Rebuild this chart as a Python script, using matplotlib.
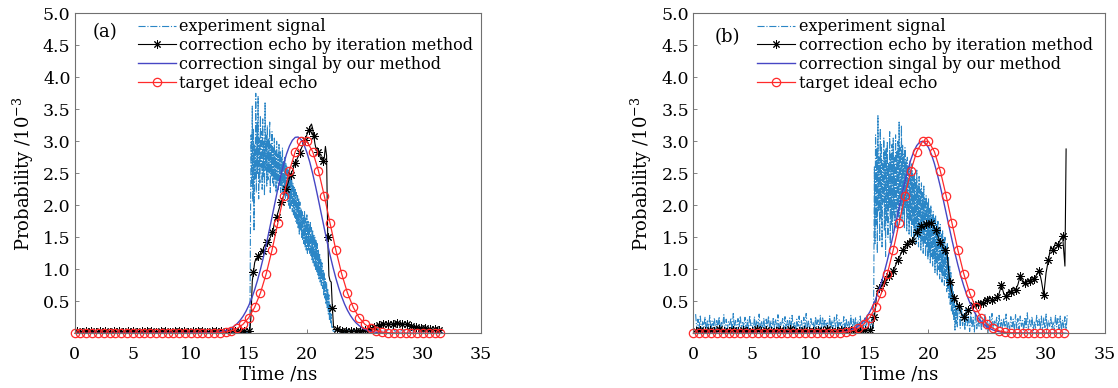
import numpy as np
import matplotlib
matplotlib.use("Agg")
import matplotlib.pyplot as plt

# ---------------- data ----------------
# target ideal echo (same target in both panels), sampled every 0.5 ns from 0 ns
ideal_t0, ideal_dt = 0.0, 0.5
ideal_echo = [0.0] * 24 + [
    0.004, 0.009, 0.019, 0.039, 0.076, 0.141, 0.245, 0.405, 0.63, 0.93,
    1.30, 1.72, 2.15, 2.54, 2.84, 3.00, 3.00, 2.84, 2.54, 2.15,
    1.72, 1.30, 0.93, 0.63, 0.405, 0.245, 0.141, 0.076, 0.039, 0.019,
    0.009, 0.004] + [0.0] * 8

# correction signal by our method, sampled every 0.25 ns from 12 ns
our_t0, our_dt = 12.0, 0.25
our_flat_t = [0.0, 31.7]
our_a = [0.009, 0.014, 0.020, 0.030, 0.042, 0.059, 0.082, 0.113, 0.152, 0.202, 0.264, 0.342,
         0.436, 0.547, 0.678, 0.828, 0.997, 1.183, 1.385, 1.598, 1.818, 2.039, 2.255, 2.458,
         2.643, 2.801, 2.926, 3.015, 3.062, 3.067, 3.028, 2.947, 2.828, 2.676, 2.497, 2.297,
         2.083, 1.862, 1.642, 1.427, 1.222, 1.033, 0.860, 0.707, 0.572, 0.456, 0.359, 0.279,
         0.213, 0.161, 0.120, 0.088, 0.063, 0.045, 0.032, 0.022, 0.015, 0.010, 0.006, 0.004,
         0.002]
our_b = [0.006, 0.009, 0.014, 0.020, 0.029, 0.042, 0.058, 0.081, 0.110, 0.148, 0.196, 0.257,
         0.331, 0.422, 0.529, 0.654, 0.798, 0.960, 1.139, 1.333, 1.539, 1.751, 1.965, 2.175,
         2.374, 2.556, 2.714, 2.841, 2.933, 2.987, 3.000, 2.970, 2.901, 2.794, 2.654, 2.486,
         2.297, 2.092, 1.880, 1.666, 1.455, 1.254, 1.066, 0.893, 0.739, 0.602, 0.484, 0.384,
         0.300, 0.231, 0.176, 0.132, 0.098, 0.071, 0.051, 0.036, 0.025, 0.017, 0.012, 0.008,
         0.005]

# correction echo by iteration method
# (a): flat part every 0.4 ns from 0.2, active part every 0.1 ns from 15.0, tail every 0.4 ns from 23.4
iter_a_pre = [0.03, 0.02, 0.04, 0.03, 0.02, 0.03, 0.04, 0.02, 0.03, 0.03,
              0.02, 0.04, 0.03, 0.02, 0.03, 0.04, 0.03, 0.02, 0.03, 0.04,
              0.02, 0.03, 0.03, 0.04, 0.02, 0.03, 0.04, 0.03, 0.02, 0.03,
              0.04, 0.03, 0.02, 0.04, 0.03, 0.04, 0.03]
iter_a_act = [0.03, 0.04, 0.30, 0.82, 0.95, 1.10, 1.16, 1.14, 1.20, 1.22,
              1.25, 1.30, 1.28, 1.35, 1.38, 1.36, 1.42, 1.45, 1.48, 1.52,
              1.58, 1.62, 1.72, 1.78, 1.82, 1.88, 1.94, 2.00, 2.05, 2.10,
              2.15, 2.20, 2.25, 2.30, 2.36, 2.42, 2.48, 2.52, 2.56, 2.62,
              2.66, 2.70, 2.74, 2.78, 2.82, 2.88, 2.92, 2.96, 3.02, 3.06,
              3.10, 3.15, 3.18, 3.24, 3.27, 3.20, 3.08, 2.96, 2.88, 2.90,
              2.84, 2.78, 2.72, 2.76, 2.70, 2.74, 2.92, 2.78, 1.50, 0.90,
              0.82, 0.80, 0.40, 0.10, 0.06, 0.05, 0.06, 0.04, 0.05, 0.04,
              0.04]
iter_a_tail = [0.04, 0.03, 0.04, 0.04, 0.05, 0.07, 0.10, 0.13, 0.14, 0.15,
               0.14, 0.16, 0.15, 0.14, 0.12, 0.10, 0.09, 0.08, 0.07, 0.06, 0.05]
# (b): flat part every 0.4 ns from 0.2, active part every 0.2 ns from 15.0, final spike
iter_b_pre = [0.04, 0.05, 0.03, 0.05, 0.04, 0.06, 0.04, 0.03, 0.05, 0.04,
              0.05, 0.03, 0.04, 0.06, 0.04, 0.05, 0.03, 0.04, 0.05, 0.04,
              0.06, 0.03, 0.04, 0.05, 0.04, 0.03, 0.05, 0.04, 0.06, 0.04,
              0.03, 0.05, 0.04, 0.05, 0.04, 0.03, 0.05]
iter_b_act = [0.05, 0.06, 0.25, 0.62, 0.70, 0.74, 0.80, 0.86, 0.90, 0.94,
              0.98, 1.06, 1.15, 1.22, 1.30, 1.36, 1.40, 1.46, 1.44, 1.52,
              1.58, 1.62, 1.68, 1.64, 1.70, 1.74, 1.72, 1.68, 1.62, 1.52,
              1.42, 1.36, 1.30, 1.22, 0.80, 0.62, 0.55, 0.48, 0.42, 0.30,
              0.26, 0.30, 0.36, 0.40, 0.44, 0.42, 0.45, 0.50, 0.48, 0.55,
              0.52, 0.58, 0.52, 0.50, 0.56, 0.62, 0.75, 0.62, 0.58, 0.66,
              0.64, 0.72, 0.68, 0.76, 0.90, 0.80, 0.78, 0.84, 0.82, 0.88,
              0.85, 0.92, 0.98, 0.82, 0.60, 0.95, 1.15, 1.36, 1.30, 1.42,
              1.38, 1.46, 1.52, 1.05]
iter_b_end_t = [31.7]
iter_b_end = [2.88]

# experiment signal
# (a): quiet before 15.1 ns, active every 0.05 ns from 15.10, tail every 0.2 ns from 22.4
exp_a_pre_t = [0.2, 15.05]
exp_a_pre = [0.01, 0.01]
exp_a_act = [0.30, 1.90,
             3.10, 2.30, 3.55, 2.05, 3.20, 1.60, 2.95, 2.40, 3.75, 2.20,
             3.30, 2.50, 3.70, 2.10, 3.05, 2.35, 3.40, 2.60, 3.15, 2.25,
             3.35, 2.45, 3.00, 2.15, 3.60, 2.55, 3.10, 2.30, 3.25, 2.40,
             3.05, 2.50, 3.30, 2.20, 2.95, 2.45, 3.15, 2.35, 2.90, 2.30,
             3.05, 2.40, 2.85, 2.20, 3.00, 2.35, 2.80, 2.25, 2.95, 2.30,
             2.85, 2.20, 2.75, 2.30, 2.90, 2.15, 2.70, 2.25, 2.75, 2.10,
             2.65, 2.15, 2.60, 2.05, 2.55, 2.00, 2.60, 1.95, 2.45, 2.00,
             2.40, 1.90, 2.35, 1.85, 2.30, 1.80, 2.25, 1.75, 2.20, 1.70,
             2.15, 1.65, 2.10, 1.55, 2.05, 1.60, 1.95, 1.50, 1.90, 1.45,
             1.85, 1.40, 1.90, 1.35, 1.80, 1.30, 1.85, 1.25, 1.75, 1.30,
             1.70, 1.25, 1.75, 1.20, 1.65, 1.15, 1.60, 1.10, 1.55, 1.05,
             1.50, 1.00, 1.45, 0.95, 1.40, 0.90, 1.30, 0.85, 1.25, 0.80,
             1.15, 0.75, 1.10, 0.70, 1.00, 0.60, 0.95, 0.55, 0.85, 0.45,
             0.80, 0.40, 0.70, 0.30, 0.60, 0.20, 0.45, 0.15, 0.30, 0.08,
             0.10, 0.04, 0.03]
exp_a_tail = [0.03, 0.06, 0.02, 0.05, 0.01, 0.04, 0.07, 0.02, 0.05, 0.03,
              0.06, 0.01, 0.04, 0.08, 0.03, 0.05, 0.02, 0.06, 0.04, 0.07,
              0.03, 0.05, 0.02, 0.06, 0.04, 0.08, 0.03, 0.05, 0.01, 0.06,
              0.04, 0.07, 0.02, 0.05, 0.03, 0.06, 0.04, 0.02, 0.05, 0.03,
              0.06, 0.02, 0.04, 0.05, 0.03, 0.02, 0.04]
# (b): baseline every 0.1 ns from 0.2, active every 0.05 ns from 15.35, tail every 0.1 ns from 22.6
exp_b_pre = [0.30, 0.05, 0.22, 0.08, 0.27, 0.02, 0.18, 0.10, 0.25, 0.04,
             0.21, 0.07, 0.28, 0.03, 0.19, 0.12, 0.24, 0.01, 0.20, 0.09,
             0.26, 0.05, 0.17, 0.11, 0.29, 0.03, 0.22, 0.06, 0.18, 0.13,
             0.24, 0.02, 0.31, 0.08, 0.20, 0.04, 0.23, 0.10, 0.27, 0.05,
             0.19, 0.09, 0.25, 0.01, 0.21, 0.07, 0.28, 0.12, 0.16, 0.03,
             0.26, 0.06, 0.20, 0.10, 0.30, 0.04, 0.18, 0.08, 0.24, 0.02,
             0.22, 0.11, 0.27, 0.05, 0.19, 0.03, 0.25, 0.09, 0.21, 0.06,
             0.29, 0.02, 0.17, 0.12, 0.23, 0.07, 0.26, 0.04, 0.20, 0.10,
             0.24, 0.05, 0.28, 0.08, 0.18, 0.01, 0.22, 0.11, 0.27, 0.06,
             0.20, 0.03, 0.25, 0.09, 0.31, 0.05, 0.19, 0.07, 0.23, 0.12,
             0.17, 0.04, 0.26, 0.10, 0.21, 0.02, 0.28, 0.06, 0.24, 0.08,
             0.22, 0.11, 0.18, 0.03, 0.27, 0.07, 0.20, 0.05, 0.25, 0.09,
             0.29, 0.04, 0.21, 0.12, 0.19, 0.06, 0.26, 0.02, 0.23, 0.10,
             0.18, 0.07, 0.28, 0.05, 0.22, 0.09, 0.25, 0.03, 0.20, 0.11,
             0.27, 0.06, 0.19, 0.08, 0.24, 0.04, 0.30, 0.10, 0.21, 0.05,
             0.23, 0.08]
exp_b_act = [0.80, 2.60, 1.40, 3.10, 1.70, 2.90, 1.25, 3.40, 1.90, 2.75,
             1.45, 3.20, 1.80, 2.95, 1.35, 2.70, 2.05, 3.05, 1.60, 2.85,
             1.20, 2.90, 1.75, 3.00, 1.50, 2.65, 1.95, 3.15, 1.40, 2.80,
             1.70, 2.95, 1.55, 3.05, 1.85, 2.75, 1.65, 3.10, 1.90, 2.85,
             1.60, 3.00, 1.80, 3.30, 1.70, 2.90, 2.00, 3.25, 1.75, 2.95,
             1.85, 2.80, 1.65, 2.90, 1.95, 2.70, 1.60, 2.75, 1.80, 2.60,
             1.55, 2.70, 1.75, 2.55, 1.50, 2.65, 1.70, 2.45, 1.45, 2.50,
             1.60, 2.40, 1.40, 2.55, 1.55, 2.30, 1.35, 2.45, 1.50, 2.25,
             1.30, 2.35, 1.45, 2.20, 1.25, 2.30, 1.40, 2.10, 1.20, 2.15,
             1.35, 2.05, 1.15, 2.10, 1.25, 1.95, 1.10, 2.00, 1.20, 1.85,
             1.05, 1.90, 1.15, 1.80, 0.95, 1.85, 1.10, 1.70, 0.90, 1.75,
             1.00, 1.65, 0.85, 1.70, 0.95, 1.55, 0.80, 1.60, 0.90, 1.45,
             0.75, 1.50, 0.85, 1.35, 0.65, 1.40, 0.70, 1.20, 0.55, 1.05,
             0.45, 0.95, 0.35, 0.80, 0.30, 0.65, 0.20, 0.55, 0.05, 0.45,
             0.15, 0.50, 0.10, 0.40]
exp_b_tail = [0.35, 0.08, 0.42, 0.12, 0.30, 0.05, 0.38, 0.10, 0.28, 0.03,
              0.30, 0.09, 0.25, 0.02, 0.33, 0.07, 0.22, 0.11, 0.27, 0.04,
              0.24, 0.10, 0.29, 0.05, 0.20, 0.01, 0.26, 0.08, 0.31, 0.06,
              0.19, 0.12, 0.25, 0.03, 0.28, 0.09, 0.21, 0.05, 0.24, 0.11,
              0.30, 0.04, 0.18, 0.07, 0.26, 0.10, 0.22, 0.02, 0.29, 0.08,
              0.23, 0.06, 0.27, 0.11, 0.20, 0.03, 0.25, 0.09, 0.32, 0.05,
              0.21, 0.10, 0.26, 0.04, 0.19, 0.08, 0.28, 0.12, 0.22, 0.06,
              0.27, 0.02, 0.24, 0.09, 0.30, 0.05, 0.20, 0.11, 0.25, 0.07,
              0.18, 0.04, 0.29, 0.10, 0.23, 0.06, 0.27, 0.03, 0.21, 0.09,
              0.26, 0.05, 0.30]

legend_labels = ["experiment signal", "correction echo by iteration method",
                 "correction singal by our method", "target ideal echo"]
panel_tags = ["(a)", "(b)"]
x_ticks = [0, 5, 10, 15, 20, 25, 30, 35]
y_ticks = [0.5, 1.0, 1.5, 2.0, 2.5, 3.0, 3.5, 4.0, 4.5, 5.0]

# ---------------- helpers ----------------
def grid(t0, dt, n):
    return t0 + dt * np.arange(n)

def series(parts):
    ts = np.concatenate([p[0] for p in parts])
    vs = np.concatenate([np.asarray(p[1], float) for p in parts])
    return ts, vs

# ---------------- figure ----------------
plt.rcParams["font.family"] = "DejaVu Serif"
plt.rcParams["mathtext.fontset"] = "dejavuserif"
FS_LEG = 11.5
FS_TICK = 12.5
FS_LAB = 13

fig = plt.figure(figsize=(11.18, 3.88), dpi=100)
ax_a = fig.add_axes([0.0668, 0.141, 0.3634, 0.8247])
ax_b = fig.add_axes([0.6201, 0.141, 0.3682, 0.8247])

C_EXP = "#2b86c6"
C_OUR = "#4646c4"
C_IDEAL = "#ff2a2a"
SPINE = "#707070"

t_ideal = grid(ideal_t0, ideal_dt, len(ideal_echo))

panels = []
# panel a
exp_a = series([(np.array(exp_a_pre_t), exp_a_pre),
                (grid(15.10, 0.05, len(exp_a_act)), exp_a_act),
                (grid(22.4, 0.2, len(exp_a_tail)), exp_a_tail)])
it_a = series([(grid(0.2, 0.4, len(iter_a_pre)), iter_a_pre),
               (grid(15.0, 0.1, len(iter_a_act)), iter_a_act),
               (grid(23.4, 0.4, len(iter_a_tail)), iter_a_tail)])
mk_a = (list(range(len(iter_a_pre)))
        + [len(iter_a_pre) + i for i in range(0, len(iter_a_act), 4)]
        + [len(iter_a_pre) + len(iter_a_act) + i for i in range(len(iter_a_tail))])
our_a_s = series([(np.array(our_flat_t[:1]), [0.0]),
                  (grid(our_t0, our_dt, len(our_a)), our_a),
                  (np.array(our_flat_t[1:]), [0.0])])
panels.append((ax_a, exp_a, it_a, mk_a, our_a_s))

# panel b
exp_b = series([(grid(0.2, 0.1, len(exp_b_pre)), exp_b_pre),
                (grid(15.35, 0.05, len(exp_b_act)), exp_b_act),
                (grid(22.6, 0.1, len(exp_b_tail)), exp_b_tail)])
it_b = series([(grid(0.2, 0.4, len(iter_b_pre)), iter_b_pre),
               (grid(15.0, 0.2, len(iter_b_act)), iter_b_act),
               (np.array(iter_b_end_t), iter_b_end)])
mk_b = (list(range(len(iter_b_pre)))
        + [len(iter_b_pre) + i for i in range(0, len(iter_b_act), 2)])
our_b_s = series([(np.array(our_flat_t[:1]), [0.0]),
                  (grid(our_t0, our_dt, len(our_b)), our_b),
                  (np.array(our_flat_t[1:]), [0.0])])
panels.append((ax_b, exp_b, it_b, mk_b, our_b_s))

tag_pos = [(0.043, 0.942), (0.052, 0.926)]

for k, (ax, ex, it, mk, ours) in enumerate(panels):
    ax.plot(ex[0], ex[1], linestyle="-.", color=C_EXP, lw=0.8, label=legend_labels[0])
    ax.plot(it[0], it[1], linestyle="-", color="black", lw=0.8, marker=(8, 2, 0),
            markersize=6, markeredgewidth=0.7, markevery=mk, label=legend_labels[1])
    ax.plot(ours[0], ours[1], linestyle="-", color=C_OUR, lw=1.0, label=legend_labels[2])
    ax.plot(t_ideal, ideal_echo, linestyle="-", color=C_IDEAL, lw=0.9, marker="o",
            markersize=6, markerfacecolor="none", markeredgewidth=0.9, clip_on=False,
            label=legend_labels[3])

    ax.set_xlim(0, 35)
    ax.set_ylim(0, 5)
    ax.set_xticks(x_ticks)
    ax.set_yticks(y_ticks)
    ax.set_yticklabels([f"{v:.1f}" for v in y_ticks])
    ax.tick_params(direction="in", length=3, width=0.6, color=SPINE,
                   labelsize=FS_TICK)
    ax.tick_params(axis="x", pad=9)
    ax.tick_params(axis="y", pad=3)
    for sp in ax.spines.values():
        sp.set_color(SPINE)
        sp.set_linewidth(0.8)
    ax.set_xlabel("Time /ns", fontsize=FS_LAB, labelpad=2)
    ax.set_ylabel(r"Probability /10$^{-3}$", fontsize=FS_LAB, labelpad=5)
    ax.text(tag_pos[k][0], tag_pos[k][1], panel_tags[k],
            transform=ax.transAxes, fontsize=FS_LAB, va="center", ha="left")
    ax.legend(loc="upper left", bbox_to_anchor=(0.155, 0.985), frameon=False,
              fontsize=FS_LEG, handlelength=2.4, handletextpad=0.2, labelspacing=0.12,
              borderpad=0, borderaxespad=0)

fig.savefig("out.png", dpi=100)
